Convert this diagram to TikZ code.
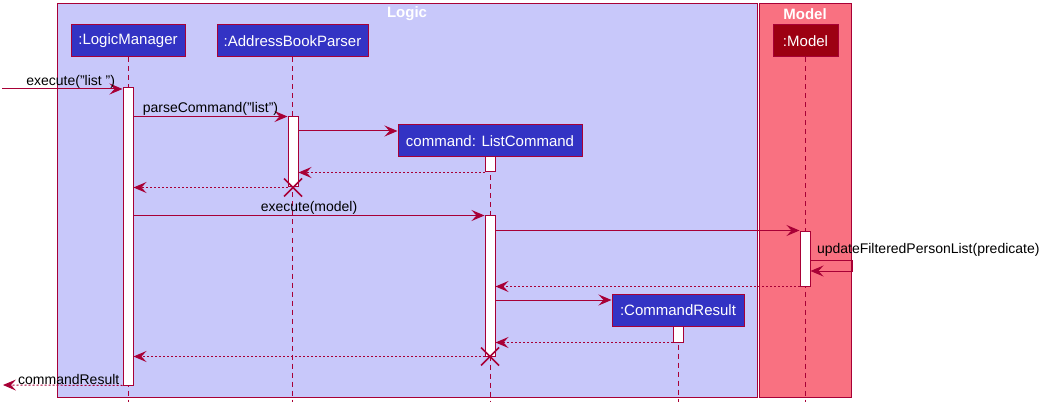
\documentclass[tikz,border=0pt]{standalone}
\usepackage{fontspec}
\setmainfont{Liberation Sans}
\usetikzlibrary{arrows.meta,calc}
\definecolor{LineClr}{HTML}{A80036}
\definecolor{LogicClr}{HTML}{3333C4}
\definecolor{LogicBgClr}{HTML}{C8C8FA}
\definecolor{ModelClr}{HTML}{9D0012}
\definecolor{ModelBgClr}{HTML}{F97181}
\tikzset{
  part/.style={draw=LineClr,fill=LogicClr,text=white,minimum height=32pt,inner sep=0pt,font=\fontsize{15}{17}\selectfont},
  act/.style={draw=LineClr,fill=white,minimum width=10pt,inner sep=0pt},
  life/.style={LineClr,dash pattern=on 5pt off 4pt},
  msg/.style={LineClr,-{Stealth[length=13pt,width=11pt,inset=5pt]}},
  ret/.style={msg,dash pattern=on 2pt off 2pt},
  lbl/.style={text=black,font=\fontsize{14}{16}\selectfont,inner sep=0.5pt},
  ttl/.style={text=white,font=\fontsize{15}{17}\selectfont\bfseries},
  kill/.style={LineClr,line width=1.5pt}
}

\begin{document}
\begin{tikzpicture}[x=1pt,y=-1pt,line width=1pt]
\useasboundingbox (0,0) rectangle (1049,414);

% boxes
\draw[LineClr,fill=LogicBgClr] (57,4) rectangle (757,397);
\draw[LineClr,fill=ModelBgClr] (759,4) rectangle (851,397);
\node[ttl] (logicT) at (407,14) {Logic};
\node[ttl] (modelT) at (805,14) {Model};

% participants
\node[part,minimum width=114pt] (lm) at (128,41) {:LogicManager};
\node[part,minimum width=151pt] (abp) at (292.5,41) {:AddressBookParser};
\node[part,minimum width=184pt] (lc) at (490,141) {command: ListCommand};
\node[part,minimum width=132pt] (cr) at (678,310) {:CommandResult};
\node[part,minimum width=65pt,fill=ModelClr] (mdl) at (805.5,41) {:Model};

% lifelines
\coordinate (bot) at (0,402);
\draw[life] (lm.south) -- (lm.south |- bot);
\draw[life] (abp.south) -- (abp.south |- bot);
\draw[life] (lc.south) -- (lc.south |- bot);
\draw[life] (cr.south) -- (cr.south |- bot);
\draw[life] (mdl.south) -- (mdl.south |- bot);

% activations
\node[act,minimum height=297pt] (aLM) at (128,236.5) {};
\node[act,minimum height=70pt] (aABP) at (293,152) {};
\node[act,minimum height=15pt] (aLC1) at (490,164.5) {};
\node[act,minimum height=140pt] (aLC2) at (490,286) {};
\node[act,minimum height=55pt] (aMdl) at (805,258.5) {};
\node[act,minimum height=16pt] (aCR) at (678,334) {};

% messages
\coordinate (in) at (2,89);
\coordinate (out) at (3,385);
\coordinate (y3) at (0,131);
\coordinate (y9) at (0,300);
\coordinate (s1) at (852,260);
\coordinate (s2) at (852,271);

\draw[msg] (in) -- (aLM.west |- in) node[lbl,above,pos=.57] (m1) {execute("list ")};
\draw[msg] (aLM.east |- aABP.north) -- (aABP.north west) node[lbl,midway,above] (m2) {parseCommand("list")};
\draw[msg] (aABP.east |- y3) -- (lc.west |- y3);
\draw[ret] (aLC1.south west) -- (aABP.east |- aLC1.south);
\draw[ret] (aABP.south west) -- (aLM.east |- aABP.south);
\draw[kill] (aABP.south) ++(-9,-9) -- ++(18,18) (aABP.south) ++(-9,9) -- ++(18,-18);

\draw[msg] (aLM.east |- aLC2.north) -- (aLC2.north west) node[lbl,midway,above] (m3) {execute(model)};
\draw[msg] (aLC2.east |- aMdl.north) -- (aMdl.north west);
\draw[msg] (aMdl.east |- s1) -- (s1) -- (s2) -- (aMdl.east |- s2);
\node[lbl,anchor=south west] (m4) at (816,257) {updateFilteredPersonList(predicate)};
\draw[ret] (aMdl.south west) -- (aLC2.east |- aMdl.south);

\draw[msg] (aLC2.east |- y9) -- (cr.west |- y9);
\draw[ret] (aCR.south west) -- (aLC2.east |- aCR.south);
\draw[ret] (aLC2.south west) -- (aLM.east |- aLC2.south);
\draw[kill] (aLC2.south) ++(-9,-9) -- ++(18,18) (aLC2.south) ++(-9,9) -- ++(18,-18);

\draw[ret] (aLM.south west) -- (out) node[lbl,above,pos=.45] (m5) {commandResult};

\end{tikzpicture}
\end{document}
